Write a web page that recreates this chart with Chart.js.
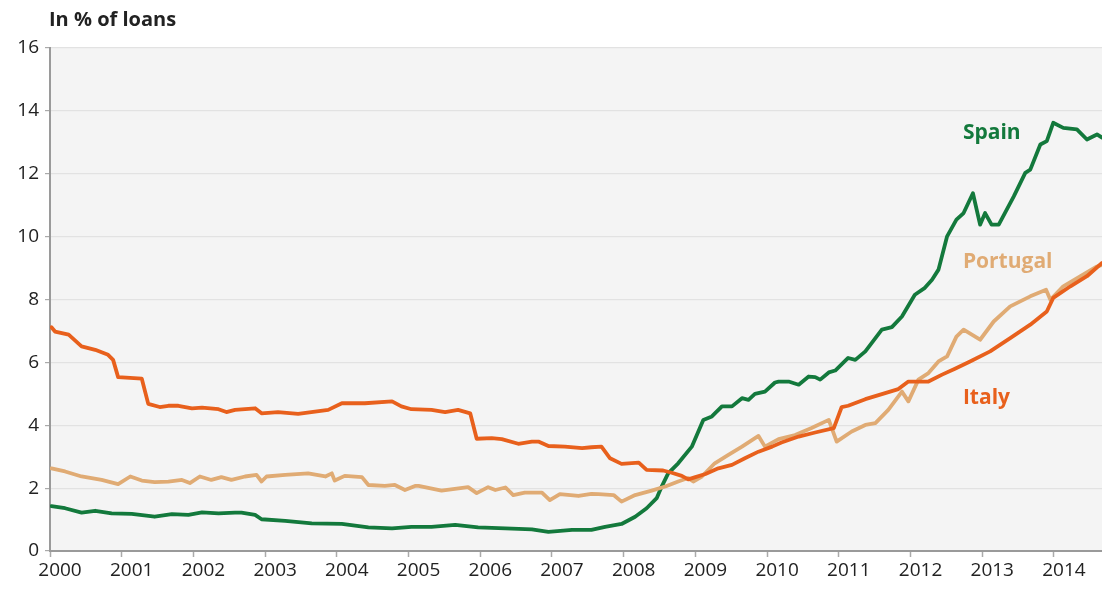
<!DOCTYPE html>
<html>
<head>
<meta charset="utf-8">
<script src="https://cdn.jsdelivr.net/npm/chart.js@4/dist/chart.umd.min.js"></script>
<style>
  html, body { margin: 0; padding: 0; background: #fff; }
  #wrap { width: 1102px; height: 593px; position: relative; }
</style>
</head>
<body>
<div id="wrap"><canvas id="nplChart"></canvas></div>
<script>
// Non-performing loans, in % of loans
const italyX = [2000.02, 2000.07, 2000.26, 2000.44, 2000.63, 2000.81, 2000.88, 2000.95, 2001.28, 2001.37, 2001.53, 2001.65, 2001.79, 2001.98, 2002.12, 2002.35, 2002.46, 2002.58, 2002.86, 2002.95, 2003.18, 2003.46, 2003.88, 2004.07, 2004.39, 2004.77, 2004.90, 2005.04, 2005.32, 2005.51, 2005.69, 2005.86, 2005.95, 2006.16, 2006.30, 2006.53, 2006.72, 2006.81, 2006.95, 2007.18, 2007.42, 2007.55, 2007.69, 2007.81, 2007.97, 2008.21, 2008.32, 2008.55, 2008.67, 2008.81, 2008.90, 2009.00, 2009.14, 2009.32, 2009.51, 2009.69, 2009.88, 2010.07, 2010.20, 2010.44, 2010.67, 2010.93, 2011.04, 2011.13, 2011.37, 2011.60, 2011.83, 2011.97, 2012.25, 2012.44, 2012.62, 2012.83, 2013.11, 2013.39, 2013.67, 2013.90, 2013.99, 2014.23, 2014.46, 2014.67];
const italyY = [7.12, 6.98, 6.88, 6.51, 6.40, 6.24, 6.08, 5.53, 5.48, 4.68, 4.58, 4.62, 4.62, 4.54, 4.56, 4.51, 4.42, 4.49, 4.54, 4.38, 4.42, 4.36, 4.49, 4.70, 4.70, 4.76, 4.60, 4.51, 4.49, 4.42, 4.49, 4.38, 3.57, 3.59, 3.56, 3.41, 3.48, 3.48, 3.34, 3.32, 3.27, 3.30, 3.32, 2.95, 2.77, 2.81, 2.58, 2.56, 2.49, 2.39, 2.28, 2.35, 2.45, 2.63, 2.74, 2.95, 3.16, 3.32, 3.45, 3.64, 3.77, 3.91, 4.58, 4.62, 4.83, 4.99, 5.15, 5.39, 5.39, 5.61, 5.80, 6.03, 6.35, 6.77, 7.20, 7.62, 8.05, 8.42, 8.74, 9.16];

const portugalX = [2000.02, 2000.21, 2000.44, 2000.72, 2000.95, 2001.12, 2001.28, 2001.46, 2001.65, 2001.84, 2001.95, 2002.09, 2002.25, 2002.39, 2002.53, 2002.72, 2002.88, 2002.95, 2003.02, 2003.28, 2003.60, 2003.84, 2003.93, 2003.97, 2004.11, 2004.35, 2004.44, 2004.67, 2004.81, 2004.95, 2005.09, 2005.14, 2005.46, 2005.83, 2005.95, 2006.11, 2006.21, 2006.35, 2006.46, 2006.62, 2006.86, 2006.97, 2007.11, 2007.37, 2007.55, 2007.65, 2007.86, 2007.97, 2008.16, 2008.39, 2008.58, 2008.76, 2008.90, 2008.97, 2009.09, 2009.27, 2009.46, 2009.65, 2009.88, 2009.97, 2010.16, 2010.39, 2010.62, 2010.86, 2010.97, 2011.18, 2011.37, 2011.51, 2011.69, 2011.88, 2011.97, 2012.11, 2012.25, 2012.39, 2012.51, 2012.64, 2012.74, 2012.97, 2013.16, 2013.39, 2013.67, 2013.89, 2013.95, 2014.13, 2014.37, 2014.60, 2014.67];
const portugalY = [2.63, 2.53, 2.37, 2.26, 2.13, 2.37, 2.24, 2.19, 2.21, 2.26, 2.16, 2.37, 2.26, 2.35, 2.26, 2.37, 2.42, 2.21, 2.37, 2.42, 2.47, 2.37, 2.47, 2.24, 2.39, 2.35, 2.10, 2.07, 2.10, 1.94, 2.07, 2.07, 1.92, 2.03, 1.84, 2.03, 1.94, 2.02, 1.78, 1.86, 1.86, 1.62, 1.81, 1.75, 1.82, 1.81, 1.78, 1.57, 1.78, 1.92, 2.05, 2.21, 2.32, 2.21, 2.37, 2.79, 3.06, 3.32, 3.66, 3.32, 3.56, 3.69, 3.91, 4.17, 3.48, 3.80, 4.01, 4.07, 4.49, 5.07, 4.76, 5.45, 5.66, 6.03, 6.19, 6.82, 7.04, 6.72, 7.30, 7.78, 8.10, 8.31, 7.99, 8.42, 8.74, 9.05, 9.10];

const spainX = [2000.02, 2000.21, 2000.44, 2000.63, 2000.86, 2001.14, 2001.46, 2001.70, 2001.93, 2002.12, 2002.35, 2002.58, 2002.67, 2002.86, 2002.95, 2003.28, 2003.65, 2004.07, 2004.44, 2004.77, 2005.04, 2005.32, 2005.65, 2005.97, 2006.35, 2006.72, 2006.95, 2007.28, 2007.55, 2007.74, 2007.97, 2008.16, 2008.32, 2008.46, 2008.53, 2008.62, 2008.76, 2008.95, 2009.11, 2009.23, 2009.37, 2009.51, 2009.65, 2009.74, 2009.83, 2009.97, 2010.11, 2010.16, 2010.30, 2010.44, 2010.58, 2010.67, 2010.74, 2010.86, 2010.95, 2011.13, 2011.23, 2011.37, 2011.60, 2011.74, 2011.88, 2012.06, 2012.20, 2012.30, 2012.39, 2012.51, 2012.64, 2012.74, 2012.87, 2012.97, 2013.04, 2013.13, 2013.23, 2013.44, 2013.60, 2013.67, 2013.81, 2013.90, 2013.99, 2014.13, 2014.32, 2014.46, 2014.60, 2014.67];
const spainY = [1.43, 1.36, 1.22, 1.28, 1.20, 1.18, 1.09, 1.17, 1.15, 1.23, 1.20, 1.22, 1.22, 1.15, 1.01, 0.96, 0.88, 0.86, 0.75, 0.72, 0.77, 0.77, 0.83, 0.75, 0.72, 0.69, 0.61, 0.67, 0.67, 0.77, 0.86, 1.09, 1.36, 1.68, 2.05, 2.47, 2.79, 3.32, 4.17, 4.28, 4.60, 4.60, 4.86, 4.81, 5.00, 5.07, 5.36, 5.39, 5.39, 5.29, 5.55, 5.53, 5.45, 5.68, 5.74, 6.14, 6.08, 6.35, 7.04, 7.12, 7.46, 8.15, 8.37, 8.63, 8.95, 10.01, 10.54, 10.75, 11.38, 10.38, 10.75, 10.38, 10.38, 11.28, 12.03, 12.13, 12.93, 13.04, 13.62, 13.46, 13.41, 13.09, 13.25, 13.15];

const yearTicks = [2000, 2001, 2002, 2003, 2004, 2005, 2006, 2007, 2008, 2009, 2010, 2011, 2012, 2013, 2014];
const valueTicks = [0, 2, 4, 6, 8, 10, 12, 14, 16];

// Series names drawn next to the lines, anchored in data units
const seriesLabels = [
  { text: 'Spain', x: 2012.73, y: 13.3, color: '#13793c' },
  { text: 'Portugal', x: 2012.73, y: 9.2, color: '#e0ab74' },
  { text: 'Italy', x: 2012.73, y: 4.87, color: '#e8601c' }
];

function zip(xs, ys) {
  return xs.map((x, i) => ({ x: x, y: ys[i] }));
}

const FONT = "'Open Sans', 'Noto Sans', sans-serif";

// Light grey plot background
const plotBackground = {
  id: 'plotBackground',
  beforeDraw(chart) {
    const { ctx, chartArea } = chart;
    ctx.save();
    ctx.fillStyle = '#f4f4f4';
    ctx.fillRect(chartArea.left, chartArea.top, chartArea.right - chartArea.left, chartArea.bottom - chartArea.top);
    ctx.restore();
  }
};

// Unit title and series names
const textLayer = {
  id: 'textLayer',
  afterDraw(chart) {
    const { ctx, scales } = chart;
    ctx.save();
    ctx.textBaseline = 'middle';
    ctx.textAlign = 'left';
    ctx.font = 'bold 20px ' + FONT;
    ctx.fillStyle = '#222';
    ctx.fillText('In % of loans', 49, 20);

    ctx.font = 'bold 21px ' + FONT;
    seriesLabels.forEach(l => {
      ctx.fillStyle = l.color;
      ctx.fillText(l.text, scales.x.getPixelForValue(l.x), scales.y.getPixelForValue(l.y));
    });
    ctx.restore();
  }
};

const ctx = document.getElementById('nplChart').getContext('2d');
new Chart(ctx, {
  type: 'line',
  data: {
    datasets: [
      { label: 'Italy', data: zip(italyX, italyY), borderColor: '#e8601c' },
      { label: 'Portugal', data: zip(portugalX, portugalY), borderColor: '#e0ab74' },
      { label: 'Spain', data: zip(spainX, spainY), borderColor: '#13793c' }
    ]
  },
  options: {
    responsive: true,
    maintainAspectRatio: false,
    animation: false,
    layout: { padding: { top: 48, right: 0, left: 0, bottom: 0 } },
    elements: {
      line: { borderWidth: 3.8, tension: 0, borderJoinStyle: 'round', borderCapStyle: 'round' },
      point: { radius: 0 }
    },
    scales: {
      x: {
        type: 'linear',
        min: 2000,
        max: 2014.67,
        afterBuildTicks(scale) {
          scale.ticks = yearTicks.map(v => ({ value: v }));
        },
        afterFit(scale) { scale.height = 42; },
        ticks: {
          includeBounds: false,
          autoSkip: false,
          maxRotation: 0,
          labelOffset: 10,
          padding: 2,
          color: '#222',
          font: { family: FONT, size: 19 },
          callback: v => String(v)
        },
        grid: { drawOnChartArea: false, drawTicks: true, tickLength: 6, tickColor: '#aaaaaa', tickWidth: 1.5 },
        border: { color: '#9a9a9a', width: 2 }
      },
      y: {
        min: 0,
        max: 16,
        afterBuildTicks(scale) {
          scale.ticks = valueTicks.map(v => ({ value: v }));
        },
        afterFit(scale) { scale.width = 50; },
        ticks: {
          color: '#222',
          padding: 6,
          font: { family: FONT, size: 19 }
        },
        grid: { color: '#e2e2e2', lineWidth: 1.2, tickLength: 5, tickColor: '#aaaaaa' },
        border: { color: '#9a9a9a', width: 2 }
      }
    },
    plugins: {
      legend: { display: false },
      tooltip: { enabled: false }
    }
  },
  plugins: [plotBackground, textLayer]
});
</script>
</body>
</html>
